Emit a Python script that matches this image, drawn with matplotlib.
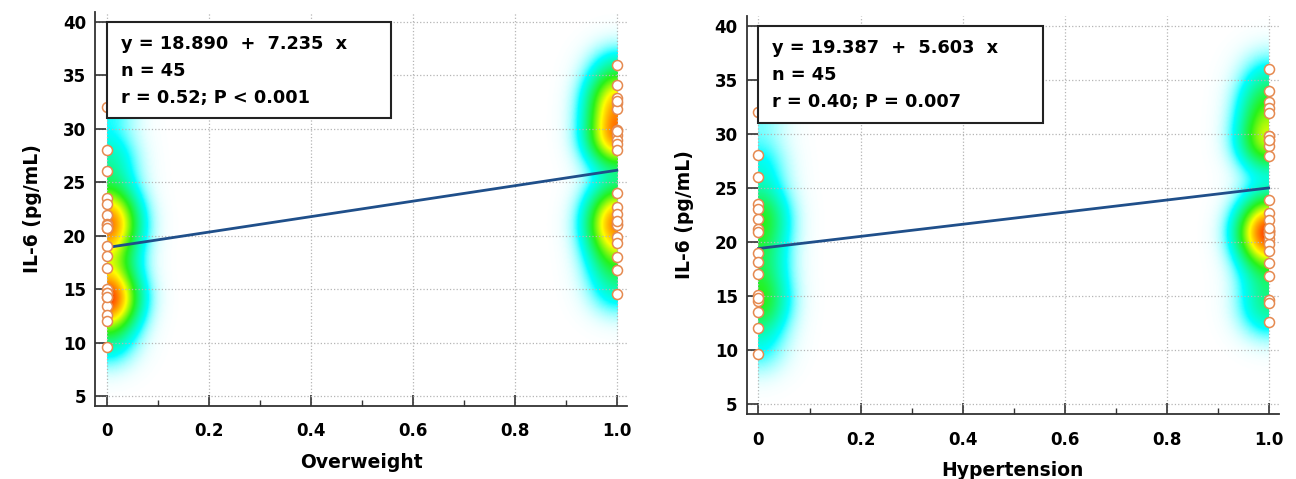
import matplotlib
matplotlib.use("Agg")
import matplotlib.pyplot as plt
import numpy as np
from matplotlib.colors import LinearSegmentedColormap
from matplotlib.patches import Rectangle
from matplotlib.ticker import FixedLocator, MultipleLocator

plt.rcParams["font.family"] = ["DejaVu Sans"]
plt.rcParams["font.weight"] = "bold"

# IL-6 (pg/mL), split by group (0 = no, 1 = yes)
ow_il6_no = [32.0, 28.0, 26.1, 23.5, 23.0, 21.9, 21.1, 20.7, 19.0, 18.1, 17.0,
             15.0, 14.6, 14.3, 13.4, 12.6, 12.0, 9.6, 21.0, 20.7, 14.6, 14.3]
ow_il6_yes = [36.0, 34.1, 32.9, 32.4, 31.9, 29.9, 29.4, 29.0, 28.6, 28.0, 24.0,
              22.7, 22.0, 21.1, 19.9, 19.3, 18.0, 16.8, 14.5, 21.0, 21.4, 29.8, 32.6]
ht_il6_no = [32.0, 28.0, 26.0, 23.5, 23.0, 22.1, 21.2, 20.9, 19.0, 18.1, 17.0,
             15.1, 14.5, 13.5, 12.0, 9.6, 14.8]
ht_il6_yes = [36.0, 34.0, 32.9, 32.4, 31.9, 29.8, 29.4, 28.9, 27.9, 23.9, 22.7,
              22.0, 21.0, 20.7, 20.3, 19.8, 19.2, 18.0, 16.8, 14.6, 14.3, 12.6,
              21.0, 21.0, 20.7, 21.3, 29.8, 29.4]

# regression (intercept, slope) as printed in the boxes
ow_fit = (18.890, 7.235)
ht_fit = (19.387, 5.603)
ow_stats = ["y = 18.890  +  7.235  x", "n = 45", "r = 0.52; P < 0.001"]
ht_stats = ["y = 19.387  +  5.603  x", "n = 45", "r = 0.40; P = 0.007"]

x_titles = ["Overweight", "Hypertension"]
x_ticks = [0, 0.2, 0.4, 0.6, 0.8, 1.0]
x_tick_labels = ["0", "0.2", "0.4", "0.6", "0.8", "1.0"]
y_ticks = [5, 10, 15, 20, 25, 30, 35, 40]

heat_cmap = LinearSegmentedColormap.from_list("heat", [
    (0.0, (0.85, 1.0, 1.0, 0.0)),
    (0.05, (0.7, 1.0, 1.0, 0.6)),
    (0.16, (0.0, 1.0, 1.0, 1.0)),
    (0.45, (0.15, 0.95, 0.1, 1.0)),
    (0.68, (1.0, 1.0, 0.0, 1.0)),
    (0.87, (1.0, 0.55, 0.0, 1.0)),
    (1.0, (1.0, 0.25, 0.0, 1.0)),
])


def draw_panel(ax, il6_no, il6_yes, fit, stats, xtitle):
    # density cloud around each group
    xs = np.linspace(0, 1, 500)
    ys = np.linspace(4, 41, 500)
    X, Y = np.meshgrid(xs, ys)
    dens = np.zeros_like(X)
    for x0, vals in ((0, il6_no), (1, il6_yes)):
        for v in vals:
            dens += np.exp(-((Y - v) ** 2) / (2 * 1.8 ** 2)
                           - ((X - x0) ** 2) / (2 * 0.042 ** 2))
    dens /= dens.max()
    ax.imshow(dens, extent=(0, 1, 4, 41), origin="lower", aspect="auto",
              cmap=heat_cmap, vmin=0, vmax=1, interpolation="bilinear", zorder=0.1)

    ax.scatter(np.zeros(len(il6_no)), il6_no, s=52, facecolor="white",
               edgecolor="#e5894f", linewidth=1.1, zorder=3)
    ax.scatter(np.ones(len(il6_yes)), il6_yes, s=52, facecolor="white",
               edgecolor="#e5894f", linewidth=1.1, zorder=3)

    xx = np.array([0.0, 1.0])
    ax.plot(xx, fit[0] + fit[1] * xx, color="#1f4f8a", lw=2, zorder=2.5)

    ax.add_patch(Rectangle((0, 31.0), 0.557, 9.0, facecolor="white",
                           edgecolor="#222222", lw=1.5, zorder=4))
    for txt, yy in zip(stats, [37.9, 35.45, 32.9]):
        ax.text(0.027, yy, txt, fontsize=12.8, fontweight="bold", va="center",
                ha="left", zorder=5)

    ax.set_xlim(-0.023, 1.02)
    ax.set_ylim(4.09, 40.94)
    ax.xaxis.set_major_locator(FixedLocator(x_ticks))
    ax.set_xticklabels(x_tick_labels)
    ax.xaxis.set_minor_locator(MultipleLocator(0.1))
    ax.set_yticks(y_ticks)
    ax.grid(True, which="major", linestyle=":", color="#b5b5b5", lw=0.9)
    ax.set_axisbelow(True)
    for side in ("top", "right"):
        ax.spines[side].set_visible(False)
    for side in ("left", "bottom"):
        ax.spines[side].set_color("#333333")
        ax.spines[side].set_linewidth(1.3)
    ax.tick_params(axis="both", which="major", direction="in", length=8,
                   width=1.2, color="#333333", labelsize=12)
    ax.tick_params(axis="x", which="minor", direction="in", length=4,
                   width=1.0, color="#333333")
    ax.tick_params(axis="y", pad=6.5)
    ax.tick_params(axis="x", pad=12)
    ax.set_ylabel("IL-6 (pg/mL)", fontsize=13.5, fontweight="bold", labelpad=15)
    ax.set_xlabel(xtitle, fontsize=13.5, fontweight="bold", labelpad=9)


fig = plt.figure(figsize=(12.96, 4.79), dpi=100)
ax1 = fig.add_axes([0.0733, 0.153, 0.4105, 0.822])
ax2 = fig.add_axes([0.5762, 0.136, 0.4106, 0.8316])

draw_panel(ax1, ow_il6_no, ow_il6_yes, ow_fit, ow_stats, x_titles[0])
draw_panel(ax2, ht_il6_no, ht_il6_yes, ht_fit, ht_stats, x_titles[1])

fig.savefig("out.png", dpi=100, facecolor="white")
